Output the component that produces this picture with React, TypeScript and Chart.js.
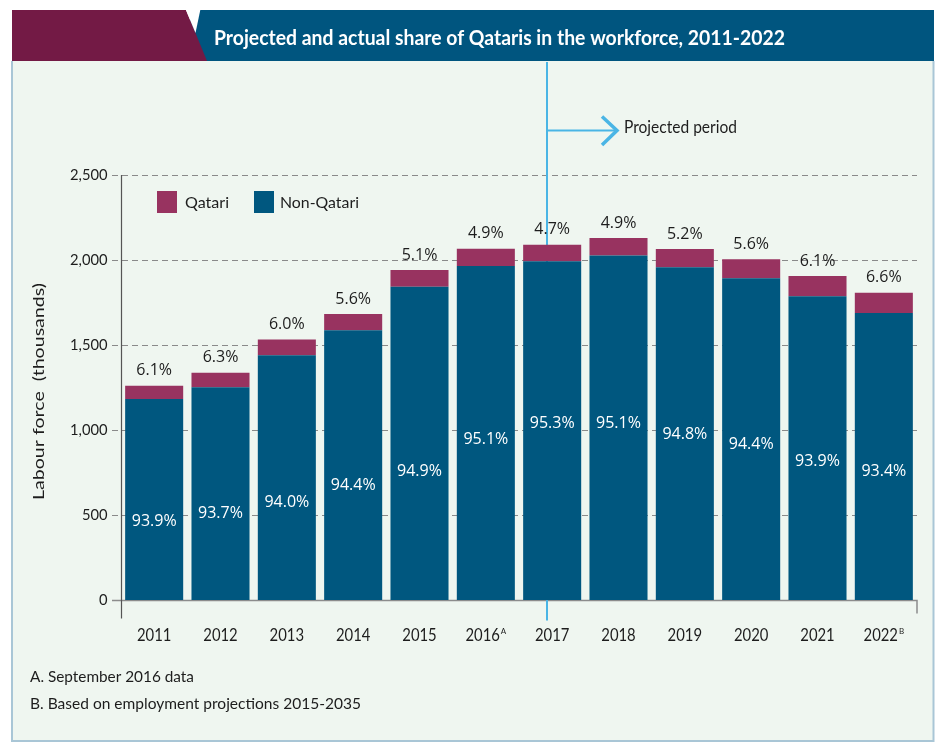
import React, { useEffect, useRef } from "react";
import { Chart, registerables } from "chart.js";

Chart.register(...registerables);

// ---------- data ----------
const YEARS = ["2011", "2012", "2013", "2014", "2015", "2016", "2017", "2018", "2019", "2020", "2021", "2022"];
const YEAR_NOTES = ["", "", "", "", "", "A", "", "", "", "", "", "B"];
const NON_QATARI = [1183, 1252, 1440, 1587, 1842, 1965, 1992, 2026, 1957, 1892, 1787, 1688];
const QATARI = [77, 85, 93, 95, 99, 101, 98, 103, 108, 112, 119, 120];
const QATARI_SHARE = ["6.1%", "6.3%", "6.0%", "5.6%", "5.1%", "4.9%", "4.7%", "4.9%", "5.2%", "5.6%", "6.1%", "6.6%"];
const NON_QATARI_SHARE = ["93.9%", "93.7%", "94.0%", "94.4%", "94.9%", "95.1%", "95.3%", "95.1%", "94.8%", "94.4%", "93.9%", "93.4%"];
const Y_TICKS = [0, 500, 1000, 1500, 2000, 2500];
const Y_TICK_LABELS = ["0", "500", "1,000", "1,500", "2,000", "2,500"];
const PROJECTION_START_INDEX = 6; // 2017

const TITLE = "Projected and actual share of Qataris in the workforce, 2011-2022";
const Y_TITLE = "Labour force  (thousands)";
const FOOTNOTES = ["A. September 2016 data", "B. Based on employment projections 2015-2035"];
const LEGEND = ["Qatari", "Non-Qatari"];
const PROJECTED_LABEL = "Projected period";

// ---------- layout / style (not data) ----------
const W = 946;
const H = 752;
const INNER_LABEL_AT = [460, 512, 572, 671, 755, 945, 1041, 1041, 976, 916, 814, 755];
const C_BLUE = "#00577f";
const C_MAROON = "#983360";
const C_HEAD_BLUE = "#00557f";
const C_HEAD_MAROON = "#731a45";
const C_PANEL = "#eff6f0";
const C_PANEL_BORDER = "#a9c6d6";
const C_LINE = "#4ab5e5";
const C_TEXT = "#1d1d1d";
const SANS = "Lato, 'Open Sans', sans-serif";
const NUM = "'Open Sans', 'Noto Sans', sans-serif";

function fitText(ctx: CanvasRenderingContext2D, text: string, x: number, y: number, width: number, align: "left" | "center" | "right") {
  const m = ctx.measureText(text).width;
  const sx = width / m;
  ctx.save();
  ctx.translate(x, y);
  ctx.scale(sx, 1);
  ctx.textAlign = "left";
  const start = align === "center" ? -m / 2 : align === "right" ? -m : 0;
  ctx.fillText(text, start, 0);
  ctx.restore();
}

const decorPlugin = {
  id: "decor",
  beforeDraw(chart: any) {
    const ctx: CanvasRenderingContext2D = chart.ctx;
    const xs = chart.scales.x;
    const ys = chart.scales.y;
    const area = chart.chartArea;
    ctx.save();
    ctx.fillStyle = "#ffffff";
    ctx.fillRect(0, 0, W, H);
    // panel
    ctx.fillStyle = C_PANEL;
    ctx.fillRect(12, 61, 922, 680);
    ctx.strokeStyle = C_PANEL_BORDER;
    ctx.lineWidth = 2;
    ctx.beginPath();
    ctx.moveTo(12, 61);
    ctx.lineTo(12, 741);
    ctx.lineTo(933.5, 741);
    ctx.lineTo(933.5, 61);
    ctx.stroke();
    // header
    ctx.fillStyle = C_HEAD_BLUE;
    ctx.fillRect(190, 10, 744, 51);
    ctx.fillStyle = C_HEAD_MAROON;
    ctx.beginPath();
    ctx.moveTo(12, 10);
    ctx.lineTo(186, 10);
    ctx.lineTo(207, 61);
    ctx.lineTo(12, 61);
    ctx.closePath();
    ctx.fill();
    ctx.fillStyle = "#ffffff";
    ctx.beginPath();
    ctx.moveTo(185.5, 9);
    ctx.lineTo(200.5, 9);
    ctx.lineTo(195.5, 33);
    ctx.closePath();
    ctx.fill();
    ctx.fillStyle = "#ffffff";
    ctx.font = `bold 20px ${SANS}`;
    ctx.textBaseline = "middle";
    fitText(ctx, TITLE, 214, 39, 571, "left");

    // gridlines
    ctx.strokeStyle = "#8a8a8a";
    ctx.lineWidth = 1;
    ctx.setLineDash([6, 4]);
    Y_TICKS.forEach((v) => {
      if (v === 0) return;
      const y = Math.round(ys.getPixelForValue(v)) + 0.5;
      ctx.beginPath();
      ctx.moveTo(112, y);
      ctx.lineTo(area.right, y);
      ctx.stroke();
    });
    ctx.setLineDash([]);
    // zero line + right end tick
    const y0 = Math.round(ys.getPixelForValue(0)) + 0.5;
    ctx.strokeStyle = "#8c8c8c";
    ctx.lineWidth = 1.5;
    ctx.beginPath();
    ctx.moveTo(112, y0);
    ctx.lineTo(area.right, y0);
    ctx.lineTo(area.right, y0 + 13);
    ctx.stroke();
    // y axis line
    ctx.strokeStyle = "#555555";
    ctx.lineWidth = 1.2;
    ctx.beginPath();
    ctx.moveTo(area.left + 0.5, ys.getPixelForValue(2500));
    ctx.lineTo(area.left + 0.5, y0 + 18);
    ctx.stroke();

    // projection line + arrow
    const lx = Math.round(xs.getPixelForValue(PROJECTION_START_INDEX) - 5);
    ctx.strokeStyle = C_LINE;
    ctx.lineWidth = 2;
    ctx.beginPath();
    ctx.moveTo(lx, 62);
    ctx.lineTo(lx, y0 + 20);
    ctx.stroke();
    ctx.beginPath();
    ctx.moveTo(lx, 130.5);
    ctx.lineTo(lx + 70, 130.5);
    ctx.stroke();
    ctx.lineWidth = 3.5;
    ctx.beginPath();
    ctx.moveTo(lx + 55, 116.5);
    ctx.lineTo(lx + 70, 130.5);
    ctx.lineTo(lx + 55, 145);
    ctx.stroke();
    ctx.fillStyle = C_TEXT;
    ctx.font = `17px ${SANS}`;
    ctx.textBaseline = "middle";
    fitText(ctx, PROJECTED_LABEL, lx + 77, 127.5, 113, "left");
    ctx.restore();
  },
  afterDatasetsDraw(chart: any) {
    const ctx: CanvasRenderingContext2D = chart.ctx;
    const xs = chart.scales.x;
    const ys = chart.scales.y;
    const area = chart.chartArea;
    ctx.save();
    ctx.textBaseline = "middle";
    // value labels
    ctx.font = `16px ${NUM}`;
    ctx.textAlign = "center";
    YEARS.forEach((_, i) => {
      const x = xs.getPixelForValue(i);
      const top = ys.getPixelForValue(NON_QATARI[i] + QATARI[i]);
      ctx.fillStyle = C_TEXT;
      ctx.fillText(QATARI_SHARE[i], x, top - 15);
      ctx.fillStyle = "#ffffff";
      ctx.fillText(NON_QATARI_SHARE[i], x, ys.getPixelForValue(INNER_LABEL_AT[i]));
    });
    // x labels (slightly condensed, like the original typeface)
    YEARS.forEach((yr, i) => {
      const x = xs.getPixelForValue(i);
      ctx.font = `16.5px ${SANS}`;
      const wNat = ctx.measureText(yr).width;
      const w = wNat * 0.9;
      let ws = 0;
      if (YEAR_NOTES[i]) {
        ctx.font = `8px ${SANS}`;
        ws = ctx.measureText(YEAR_NOTES[i]).width + 1;
      }
      const start = x - (w + ws) / 2;
      ctx.fillStyle = C_TEXT;
      ctx.font = `16.5px ${SANS}`;
      fitText(ctx, yr, start, area.bottom + 36, w, "left");
      if (YEAR_NOTES[i]) {
        ctx.font = `8px ${SANS}`;
        ctx.textAlign = "left";
        ctx.fillText(YEAR_NOTES[i], start + w + 1, area.bottom + 31);
      }
    });
    // y tick labels
    ctx.font = `15.5px ${SANS}`;
    ctx.fillStyle = C_TEXT;
    Y_TICKS.forEach((v, i) => {
      const t = Y_TICK_LABELS[i];
      const w = ctx.measureText(t).width * 0.95;
      fitText(ctx, t, area.left - 13.5, ys.getPixelForValue(v), w, "right");
    });
    // y title
    ctx.save();
    ctx.translate(39, (area.top + area.bottom) / 2 + 4);
    ctx.rotate(-Math.PI / 2);
    ctx.font = `15.5px ${SANS}`;
    fitText(ctx, Y_TITLE, 0, 0, 217, "center");
    ctx.restore();
    // legend
    ctx.fillStyle = C_MAROON;
    ctx.fillRect(157, 191, 20, 22);
    ctx.fillStyle = C_BLUE;
    ctx.fillRect(254, 191, 20, 22);
    ctx.fillStyle = C_TEXT;
    ctx.font = `16px ${SANS}`;
    fitText(ctx, LEGEND[0], 185, 203, 44, "left");
    fitText(ctx, LEGEND[1], 280, 203, 79, "left");
    // footnotes
    ctx.font = `15px ${SANS}`;
    fitText(ctx, FOOTNOTES[0], 30, 677, 164, "left");
    fitText(ctx, FOOTNOTES[1], 30, 704, 331, "left");
    ctx.restore();
  },
};

export default function App() {
  const ref = useRef<HTMLCanvasElement | null>(null);
  useEffect(() => {
    if (!ref.current) return;
    const chart = new Chart(ref.current, {
      type: "bar",
      data: {
        labels: YEARS,
        datasets: [
          { label: LEGEND[1], data: NON_QATARI, backgroundColor: C_BLUE, borderWidth: 0 },
          { label: LEGEND[0], data: QATARI, backgroundColor: C_MAROON, borderWidth: 0 },
        ],
      },
      options: {
        responsive: false,
        animation: false,
        devicePixelRatio: 1,
        layout: { padding: { left: 121, top: 175, right: 29, bottom: 152 } },
        datasets: { bar: { barPercentage: 0.875, categoryPercentage: 1 } },
        scales: {
          x: { display: false, stacked: true },
          y: { display: false, stacked: true, min: 0, max: 2500 },
        },
        plugins: { legend: { display: false }, tooltip: { enabled: false }, title: { display: false } },
      },
      plugins: [decorPlugin],
    } as any);
    return () => chart.destroy();
  }, []);
  return (
    <div style={{ position: "fixed", left: 0, top: 0, width: W, height: H, background: "#fff" }}>
      <canvas ref={ref} width={W} height={H} style={{ display: "block", width: W, height: H }} />
    </div>
  );
}
